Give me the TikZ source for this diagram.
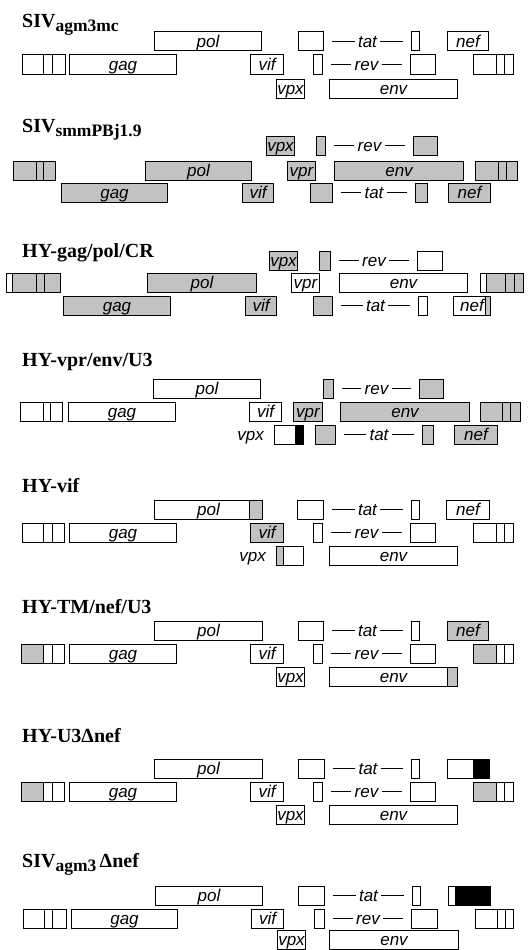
\documentclass[tikz,border=0pt]{standalone}
\usepackage{fontspec}
\setmainfont{Liberation Serif}
\setsansfont{Liberation Sans}
\usetikzlibrary{calc}
\definecolor{shade}{gray}{0.76}
\newcommand{\genefont}{\fontsize{17}{17}\selectfont\sffamily\itshape}
\newcommand{\titlefont}{\fontsize{20}{20}\selectfont\bfseries}
\newcommand{\subfont}{\fontsize{17.5}{17.5}\selectfont\bfseries}
\newcommand{\gene}[6]{\node[gbox,fill=#5,minimum width={(#3-#2)*1pt}] (#1) at (#2,#4+9.5) {#6};}
\newcommand{\seg}[4]{\draw[gline,fill=#4] (#1,#3) rectangle (#2,#3+19);}
\newcommand{\ltr}[8]{\seg{#1}{#2}{#5}{#6}\seg{#2}{#3}{#5}{#7}\seg{#3}{#4}{#5}{#8}}
\newcommand{\splice}[4]{%
  \node[slabel] (#4) at ($(#1.east)!0.5!(#2.west)$) {#3};
  \draw[gline,shorten <=8pt] (#1.east) -- (#4.west);
  \draw[gline,shorten >=8pt] (#4.east) -- (#2.west);}

\begin{document}
\begin{tikzpicture}[x=1pt,y=-1pt,
  gline/.style={line width=1pt},
  gbox/.style={draw,gline,inner sep=0pt,anchor=west,minimum height=19pt,text height=12pt,text depth=0.5pt,font=\genefont},
  slabel/.style={inner sep=3pt,text height=12pt,text depth=0.5pt,font=\genefont},
  title/.style={anchor=base west,inner sep=0pt,font=\titlefont}]
\fill[white] (0,0) rectangle (530,950);
\useasboundingbox (0,0) rectangle (530,950);

\node[title] (siv1) at (22,28) {SIV\raisebox{-4pt}{\subfont agm3mc}};
\gene{pol1}{154}{261}{32}{white}{pol}
\gene{tatA1}{298}{323}{32}{white}{}
\gene{tatB1}{411}{419}{32}{white}{}
\gene{nef1}{447}{488}{32}{white}{nef}
\splice{tatA1}{tatB1}{tat}{tatL1}
\ltr{22}{43}{52}{65}{55}{white}{white}{white}
\gene{gag1}{69}{176}{55}{white}{gag}
\gene{vif1}{250}{283}{55}{white}{vif}
\gene{revA1}{313}{322}{55}{white}{}
\gene{revB1}{410}{435}{55}{white}{}
\splice{revA1}{revB1}{rev}{revL1}
\ltr{473}{496}{504}{513}{55}{white}{white}{white}
\gene{vpx1}{276}{304}{79}{white}{vpx}
\gene{env1}{329}{457}{79}{white}{env}

\node[title] (smm2) at (22,132) {SIV\raisebox{-4pt}{\subfont smmPBj1.9}};
\gene{vpx2}{266}{294}{136}{shade}{vpx}
\gene{revA2}{316}{325}{136}{shade}{}
\gene{revB2}{413}{437}{136}{shade}{}
\splice{revA2}{revB2}{rev}{revL2}
\ltr{13}{36}{43}{55}{161}{shade}{shade}{shade}
\gene{pol2}{145}{251}{161}{shade}{pol}
\gene{vpr2}{287}{315}{161}{shade}{vpr}
\gene{env2}{334}{463}{161}{shade}{env}
\ltr{475}{498}{506}{517}{161}{shade}{shade}{shade}
\gene{gag2}{61}{167}{183}{shade}{gag}
\gene{vif2}{242}{273}{183}{shade}{vif}
\gene{tatA2}{310}{332}{183}{shade}{}
\gene{tatB2}{415}{427}{183}{shade}{}
\splice{tatA2}{tatB2}{tat}{tatL2}
\gene{nef2}{448}{490}{183}{shade}{nef}

\node[title] (hy3) at (22,257) {HY-gag/pol/CR};
\gene{vpx3}{269}{297}{251}{shade}{vpx}
\gene{revA3}{319}{330}{251}{shade}{}
\gene{revB3}{417}{442}{251}{white}{}
\splice{revA3}{revB3}{rev}{revL3}
\seg{6}{12}{273}{white}
\ltr{12}{36}{44}{60}{273}{shade}{shade}{shade}
\gene{pol3}{147}{256}{273}{shade}{pol}
\gene{vpr3}{291}{319}{273}{white}{vpr}
\gene{env3}{339}{467}{273}{white}{env}
\seg{480}{486}{273}{white}
\ltr{486}{505}{514}{523}{273}{shade}{shade}{shade}
\gene{gag3}{63}{170}{296}{shade}{gag}
\gene{vif3}{245}{276}{296}{shade}{vif}
\gene{tatA3}{313}{332}{296}{shade}{}
\gene{tatB3}{418}{427}{296}{white}{}
\splice{tatA3}{tatB3}{tat}{tatL3}
\gene{nef3}{453}{490}{296}{white}{nef}
\seg{485}{490}{296}{shade}

\node[title] (hy4) at (22,366) {HY-vpr/env/U3};
\gene{pol4}{153}{260}{379}{white}{pol}
\gene{revA4}{323}{333}{379}{shade}{}
\gene{revB4}{419}{443}{379}{shade}{}
\splice{revA4}{revB4}{rev}{revL4}
\ltr{20}{43}{50}{62}{402}{white}{white}{white}
\gene{gag4}{68}{175}{402}{white}{gag}
\gene{vif4}{249}{281}{402}{white}{vif}
\gene{vpr4}{293}{322}{402}{shade}{vpr}
\gene{env4}{340}{469}{402}{shade}{env}
\ltr{480}{502}{510}{520}{402}{shade}{shade}{shade}
\gene{vpx4}{274}{303}{425}{white}{}
\seg{295}{303}{425}{black}
\node[slabel,anchor=east] (vpxL4) at ([xshift=-7pt]vpx4.west) {vpx};
\gene{tatA4}{315}{335}{425}{shade}{}
\gene{tatB4}{422}{433}{425}{shade}{}
\splice{tatA4}{tatB4}{tat}{tatL4}
\gene{nef4}{454}{497}{425}{shade}{nef}

\node[title] (hy5) at (22,492) {HY-vif};
\gene{pol5}{154}{262}{500}{white}{pol}
\seg{249}{262}{500}{shade}
\gene{tatA5}{297}{323}{500}{white}{}
\gene{tatB5}{411}{419}{500}{white}{}
\splice{tatA5}{tatB5}{tat}{tatL5}
\gene{nef5}{446}{489}{500}{white}{nef}
\ltr{22}{43}{52}{64}{523}{white}{white}{white}
\gene{gag5}{69}{176}{523}{white}{gag}
\gene{vif5}{250}{283}{523}{shade}{vif}
\gene{revA5}{313}{322}{523}{white}{}
\gene{revB5}{410}{435}{523}{white}{}
\splice{revA5}{revB5}{rev}{revL5}
\ltr{473}{496}{504}{513}{523}{white}{white}{white}
\gene{vpx5}{276}{303}{546}{white}{}
\seg{276}{283}{546}{shade}
\node[slabel,anchor=east] (vpxL5) at ([xshift=-7pt]vpx5.west) {vpx};
\gene{env5}{329}{457}{546}{white}{env}

\node[title] (hy6) at (22,613) {HY-TM/nef/U3};
\gene{pol6}{154}{262}{621}{white}{pol}
\gene{tatA6}{298}{323}{621}{white}{}
\gene{tatB6}{411}{419}{621}{white}{}
\splice{tatA6}{tatB6}{tat}{tatL6}
\gene{nef6}{447}{488}{621}{shade}{nef}
\ltr{21}{43}{52}{64}{644}{shade}{white}{white}
\gene{gag6}{69}{176}{644}{white}{gag}
\gene{vif6}{250}{283}{644}{white}{vif}
\gene{revA6}{313}{322}{644}{white}{}
\gene{revB6}{410}{435}{644}{white}{}
\splice{revA6}{revB6}{rev}{revL6}
\ltr{473}{496}{504}{513}{644}{shade}{white}{white}
\gene{vpx6}{276}{304}{667}{white}{vpx}
\gene{env6}{329}{457}{667}{white}{env}
\seg{447}{457}{667}{shade}

\node[title] (hy7) at (22,742) {HY-U3Δnef};
\gene{pol7}{154}{262}{759}{white}{pol}
\gene{tatA7}{298}{324}{759}{white}{}
\gene{tatB7}{411}{419}{759}{white}{}
\splice{tatA7}{tatB7}{tat}{tatL7}
\gene{nef7}{447}{489}{759}{white}{}
\seg{473}{489}{759}{black}
\ltr{21}{43}{52}{64}{782}{shade}{white}{white}
\gene{gag7}{69}{176}{782}{white}{gag}
\gene{vif7}{250}{283}{782}{white}{vif}
\gene{revA7}{313}{322}{782}{white}{}
\gene{revB7}{410}{435}{782}{white}{}
\splice{revA7}{revB7}{rev}{revL7}
\ltr{473}{496}{504}{513}{782}{shade}{white}{white}
\gene{vpx7}{276}{304}{805}{white}{vpx}
\gene{env7}{329}{457}{805}{white}{env}

\node[title] (siv8) at (22,867) {SIV\raisebox{-4pt}{\subfont agm3}\,Δnef};
\gene{pol8}{155}{262}{886}{white}{pol}
\gene{tatA8}{298}{324}{886}{white}{}
\gene{tatB8}{412}{420}{886}{white}{}
\splice{tatA8}{tatB8}{tat}{tatL8}
\gene{nef8}{448}{490}{886}{white}{}
\seg{455}{490}{886}{black}
\ltr{23}{44}{52}{66}{909}{white}{white}{white}
\gene{gag8}{71}{177}{909}{white}{gag}
\gene{vif8}{251}{283}{909}{white}{vif}
\gene{revA8}{314}{324}{909}{white}{}
\gene{revB8}{411}{437}{909}{white}{}
\splice{revA8}{revB8}{rev}{revL8}
\ltr{475}{497}{505}{513}{909}{white}{white}{white}
\gene{vpx8}{277}{305}{930}{white}{vpx}
\gene{env8}{329}{458}{930}{white}{env}
\end{tikzpicture}
\end{document}
